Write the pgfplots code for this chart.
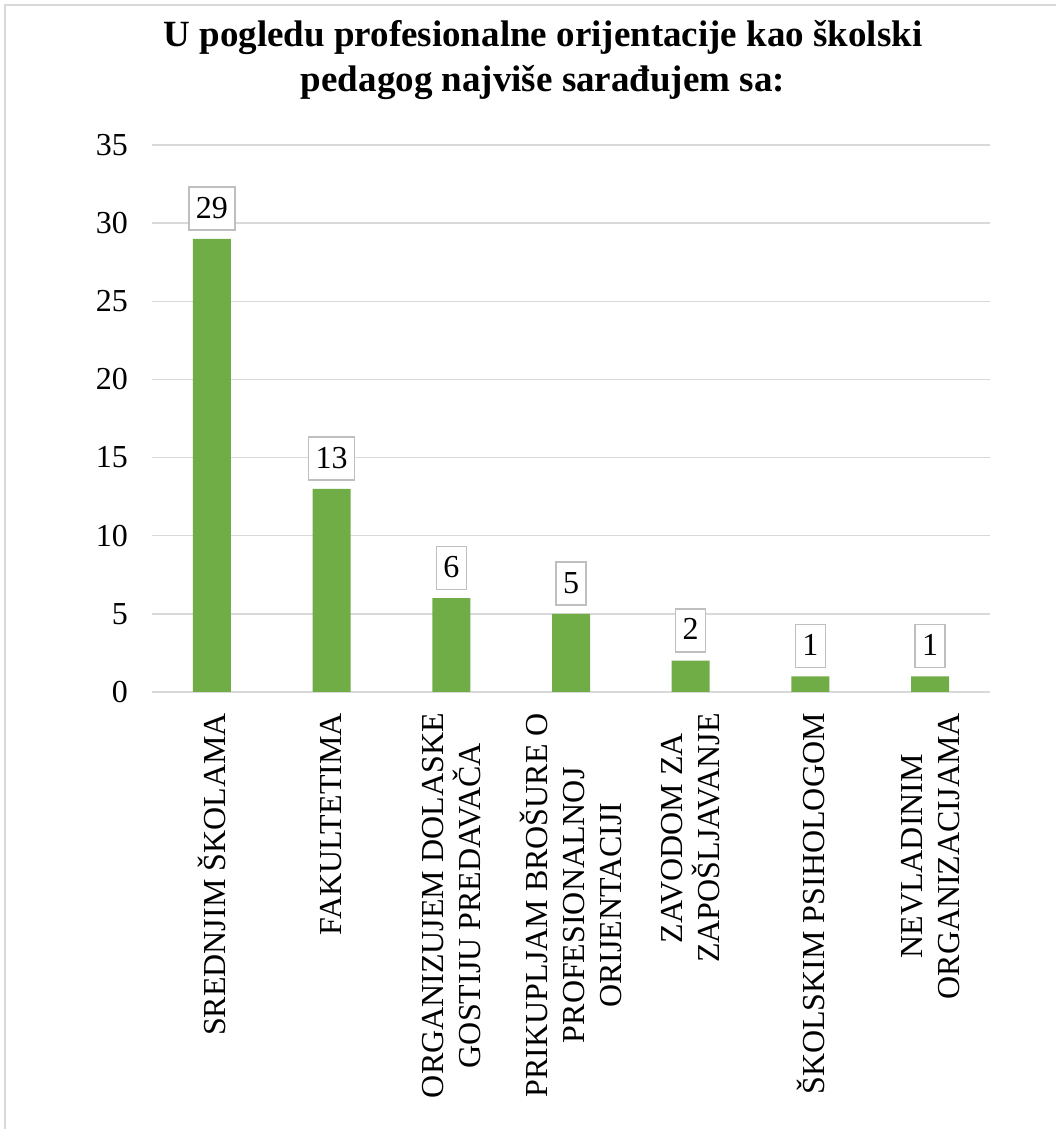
\documentclass[border=0pt]{standalone}
\usepackage{fontspec}
\setmainfont{Liberation Serif}
\usepackage{pgfplots}
\pgfplotsset{compat=1.18}
\definecolor{barc}{HTML}{70AD47}
\definecolor{gridc}{HTML}{D9D9D9}
\definecolor{boxc}{HTML}{BFBFBF}
\begin{document}
\begin{tikzpicture}
\useasboundingbox (0,0) rectangle (1056bp,1129bp);
\fill[white] (0,0) rectangle (1056bp,1129bp);
% chart border (top and left visible)
\draw[gridc, line width=2bp] (5bp,0) -- (5bp,1124bp) -- (1056bp,1124bp);
% title
\node[anchor=base, font=\fontsize{37bp}{44bp}\selectfont\bfseries] at (543bp,1082bp) {U pogledu profesionalne orijentacije kao školski};
\node[anchor=base, font=\fontsize{37bp}{44bp}\selectfont\bfseries] at (543bp,1037bp) {pedagog najviše sarađujem sa:};
\begin{axis}[
    at={(152bp,437bp)}, anchor=south west,
    scale only axis,
    width=838bp, height=547bp,
    ybar, bar width=38bp,
    xmin=0.5, xmax=7.5,
    ymin=0, ymax=35,
    ytick={0,5,10,15,20,25,30,35},
    xtick=data,
    xticklabels={
        SREDNJIM ŠKOLAMA,
        FAKULTETIMA,
        {ORGANIZUJEM DOLASKE\\GOSTIJU PREDAVAČA},
        {PRIKUPLJAM BROŠURE O\\PROFESIONALNOJ\\ORIJENTACIJI},
        {ZAVODOM ZA\\ZAPOŠLJAVANJE},
        ŠKOLSKIM PSIHOLOGOM,
        {NEVLADINIM\\ORGANIZACIJAMA}},
    xticklabel style={rotate=90, anchor=east, align=center, inner sep=0pt,
        font=\fontsize{32bp}{37bp}\selectfont},
    xticklabel shift=21bp,
    yticklabel style={inner sep=0pt, font=\fontsize{32bp}{37bp}\selectfont},
    yticklabel shift=24bp,
    /pgf/number format/assume math mode=true,
    major tick length=0pt,
    axis line style={draw=none},
    ymajorgrids=true,
    major grid style={gridc, line width=1.5bp},
    nodes near coords,
    every node near coord/.append style={
        draw=boxc, line width=1.5bp, fill=white,
        font=\fontsize{32bp}{37bp}\selectfont,
        text height=24bp, text depth=5bp, inner xsep=7bp, inner ysep=7bp,
        anchor=south, yshift=8bp},
]
\addplot[fill=barc, draw=none] coordinates {
    (1,29) (2,13) (3,6) (4,5) (5,2) (6,1) (7,1)
};
\end{axis}
\end{tikzpicture}
\end{document}
